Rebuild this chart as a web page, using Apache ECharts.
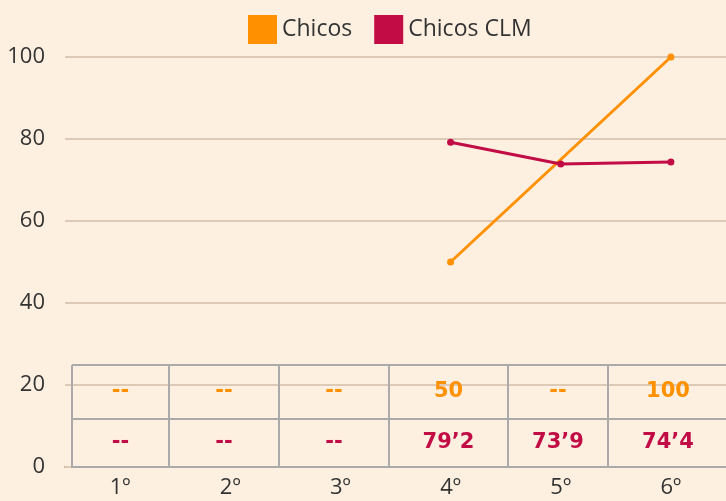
<!DOCTYPE html>
<html>
<head>
<meta charset="utf-8">
<script src="https://cdn.jsdelivr.net/npm/echarts@6/dist/echarts.min.js"></script>
<style>
  html, body { margin: 0; padding: 0; background: #fef0e1; }
  #chart { width: 726px; height: 501px; }
</style>
</head>
<body>
<div id="chart"></div>
<script>
// datos
const categories = ['1º', '2º', '3º', '4º', '5º', '6º'];
const chicos = [null, null, null, 50, null, 100];
const chicosCLM = [null, null, null, 79.2, 73.9, 74.4];
const chicosLabels = ['--', '--', '--', '50', '--', '100'];
const clmLabels = ['--', '--', '--', '79’2', '73’9', '74’4'];
const yTicks = [0, 20, 40, 60, 80, 100];

const ORANGE = '#ff9100';
const CRIMSON = '#c20c46';

// tabla: bordes de columnas y filas (px)
const colEdges = [72, 169, 279, 389, 508, 608, 728];
const rowEdges = [365, 419, 467];

function buildTable() {
  const els = [];
  const line = { stroke: '#aaaaaa', lineWidth: 2 };
  rowEdges.forEach(y => {
    els.push({ type: 'line', shape: { x1: colEdges[0], y1: y, x2: 726, y2: y }, style: line, z: 10 });
  });
  colEdges.forEach(x => {
    els.push({ type: 'line', shape: { x1: x, y1: rowEdges[0], x2: x, y2: rowEdges[2] }, style: line, z: 10 });
  });
  const rows = [[chicosLabels, ORANGE], [clmLabels, CRIMSON]];
  rows.forEach(([labels, color], r) => {
    const cy = (rowEdges[r] + rowEdges[r + 1]) / 2;
    labels.forEach((t, i) => {
      els.push({
        type: 'text',
        x: (colEdges[i] + colEdges[i + 1]) / 2,
        y: cy,
        z: 11,
        style: {
          text: t,
          fill: color,
          font: 'bold 21px "DejaVu Sans", sans-serif',
          align: 'center',
          verticalAlign: 'middle'
        }
      });
    });
  });
  return els;
}

const chart = echarts.init(document.getElementById('chart'));
chart.setOption({
  backgroundColor: '#fef0e1',
  animation: false,
  legend: {
    top: 10,
    left: 243,
    itemWidth: 29,
    itemHeight: 29,
    itemGap: 22,
    icon: 'rect',
    textStyle: { fontFamily: 'Open Sans', fontSize: 23, color: '#333' },
    data: ['Chicos', 'Chicos CLM']
  },
  grid: { left: 65, right: 0, top: 57, bottom: 34 },
  xAxis: {
    type: 'category',
    data: categories,
    boundaryGap: true,
    axisLine: { lineStyle: { color: '#b9a48f', width: 2 } },
    axisTick: { show: false },
    axisLabel: { fontFamily: 'Open Sans', fontSize: 22, color: '#333', margin: 10 },
    splitLine: { show: false }
  },
  yAxis: {
    type: 'value',
    min: yTicks[0],
    max: yTicks[yTicks.length - 1],
    interval: 20,
    axisLine: { show: false },
    axisTick: { show: true, inside: true, length: 6, lineStyle: { color: '#dccab6', width: 2 } },
    axisLabel: { fontFamily: 'Open Sans', fontSize: 22, color: '#333', margin: 20 },
    splitLine: { lineStyle: { color: '#dccab6', width: 2 } }
  },
  series: [
    {
      name: 'Chicos',
      type: 'line',
      data: chicos,
      connectNulls: true,
      symbol: 'circle',
      symbolSize: 7,
      itemStyle: { color: ORANGE },
      lineStyle: { color: ORANGE, width: 3 }
    },
    {
      name: 'Chicos CLM',
      type: 'line',
      data: chicosCLM,
      symbol: 'circle',
      symbolSize: 7,
      itemStyle: { color: CRIMSON },
      lineStyle: { color: CRIMSON, width: 3 }
    }
  ],
  graphic: buildTable()
});
</script>
</body>
</html>
